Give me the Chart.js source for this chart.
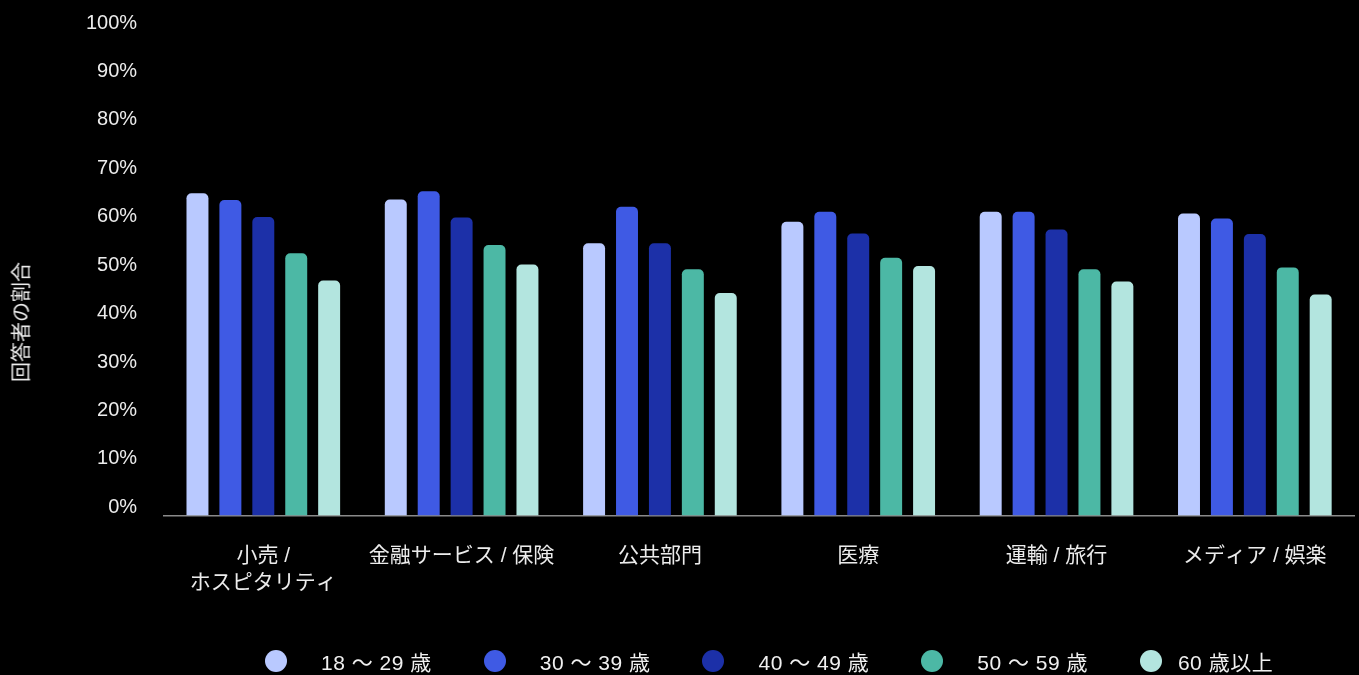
<!DOCTYPE html>
<html lang="ja">
<head>
<meta charset="utf-8">
<title>業種別・年代別の回答者の割合</title>
<script src="https://cdn.jsdelivr.net/npm/chart.js@4.4.1/dist/chart.umd.min.js"></script>
<style>
  html, body { margin: 0; padding: 0; background: #000; }
  #wrap { position: relative; width: 1359px; height: 675px; overflow: hidden; }
  #yTitle {
    position: absolute; left: 20px; top: 322px;
    transform: translate(-50%, -50%) rotate(-90deg);
    color: #ececec; font: 20px "Liberation Sans", "Noto Sans CJK JP", sans-serif;
    white-space: nowrap;
  }
  #legend {
    position: absolute; left: 265px; top: 650px; height: 22px;
    display: flex; align-items: center;
    color: #f0f0f0; font: 21px "Liberation Sans", "Noto Sans CJK JP", sans-serif;
    letter-spacing: 0.5px;
  }
  #legend .item { display: flex; align-items: center; margin-right: 52px; white-space: nowrap; }
  #legend .dot { width: 22px; height: 22px; border-radius: 50%; margin-right: 34px; }
  #legend .item:last-child .dot { margin-right: 16px; }
</style>
</head>
<body>
<div id="wrap">
  <canvas id="chart" width="1359" height="675"></canvas>
  <div id="yTitle">回答者の割合</div>
  <div id="legend"></div>
</div>
<script>
// ---------- DATA ----------
const industries = [
  ['小売 /', 'ホスピタリティ'],
  '金融サービス / 保険',
  '公共部門',
  '医療',
  '運輸 / 旅行',
  'メディア / 娯楽'
];
const ageGroups = ['18 ～ 29 歳', '30 ～ 39 歳', '40 ～ 49 歳', '50 ～ 59 歳', '60 歳以上'];
const age18to29 = [66.5, 65.2, 56.2, 60.6, 62.7, 62.3];
const age30to39 = [65.1, 66.9, 63.7, 62.7, 62.7, 61.3];
const age40to49 = [61.6, 61.5, 56.2, 58.2, 59.0, 58.1];
const age50to59 = [54.1, 55.8, 50.8, 53.2, 50.8, 51.2];
const age60plus = [48.5, 51.8, 45.9, 51.5, 48.3, 45.6];
const yTicks = [0, 10, 20, 30, 40, 50, 60, 70, 80, 90, 100];

const palette = ['#b9c9ff', '#3f5ae4', '#1c30a8', '#4cb8a5', '#b3e5df'];
const seriesValues = [age18to29, age30to39, age40to49, age50to59, age60plus];

// ---------- CHART ----------
const FONT = '"Liberation Sans", "Noto Sans CJK JP", sans-serif';

const datasets = ageGroups.map((label, i) => ({
  label: label,
  data: seriesValues[i],
  backgroundColor: palette[i],
  borderRadius: 5,
  borderSkipped: 'start',
  categoryPercentage: 0.83,
  barPercentage: 0.667
}));

const chart = new Chart(document.getElementById('chart').getContext('2d'), {
  type: 'bar',
  data: { labels: industries, datasets: datasets },
  options: {
    responsive: false,
    animation: false,
    layout: { padding: { left: 59, right: 5, top: 31, bottom: 59 } },
    plugins: {
      legend: { display: false },
      tooltip: { enabled: false }
    },
    scales: {
      x: {
        grid: { display: false },
        border: { display: true, color: '#8a8a8a', width: 1.5 },
        ticks: {
          color: '#ececec',
          font: { family: FONT, size: 21, lineHeight: 1.3 },
          padding: 19,
          maxRotation: 0,
          autoSkip: false
        }
      },
      y: {
        min: 0,
        max: 100,
        afterBuildTicks: axis => { axis.ticks = yTicks.map(v => ({ value: v })); },
        // labels sit above their tick, so no extra room is needed at the top
        afterFit: axis => { axis.paddingTop = 0; axis.paddingBottom = 0; },
        grid: { display: false, drawTicks: false },
        border: { display: false },
        ticks: {
          color: '#ececec',
          font: { family: FONT, size: 20 },
          padding: 27,
          labelOffset: -8,
          callback: v => v + '%'
        }
      }
    }
  }
});

// ---------- LEGEND ----------
const legendEl = document.getElementById('legend');
chart.data.datasets.forEach(ds => {
  const item = document.createElement('div');
  item.className = 'item';
  const dot = document.createElement('span');
  dot.className = 'dot';
  dot.style.background = ds.backgroundColor;
  const text = document.createElement('span');
  text.textContent = ds.label;
  item.appendChild(dot);
  item.appendChild(text);
  legendEl.appendChild(item);
});
</script>
</body>
</html>
